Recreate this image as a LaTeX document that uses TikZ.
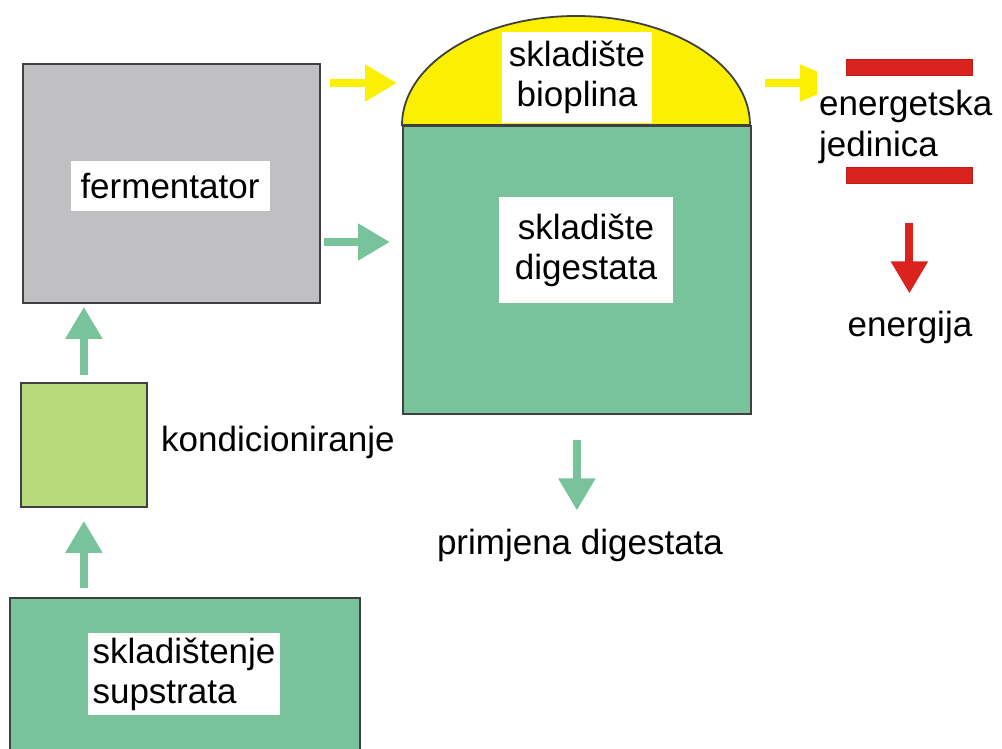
\documentclass[tikz,border=0pt]{standalone}
\usepackage{fontspec}
\setmainfont{Liberation Sans}
\usetikzlibrary{arrows.meta}
\definecolor{gbox}{RGB}{120,195,155}
\definecolor{lgbox}{RGB}{184,218,122}
\definecolor{graybox}{RGB}{192,191,193}
\definecolor{yel}{RGB}{250,240,0}
\definecolor{redc}{RGB}{218,35,30}
\definecolor{edge}{RGB}{64,64,64}
\begin{document}
\begin{tikzpicture}[x=1pt,y=-1pt,
  box/.style={draw=edge, line width=1.8pt, inner sep=0pt, anchor=north west},
  lab/.style={fill=white, inner sep=0pt, font=\fontsize{35}{40}\selectfont, align=center},
  txt/.style={inner sep=0pt, font=\fontsize{35}{41}\selectfont},
  bar/.style={fill=redc, draw=redc!85!black, line width=0.8pt, inner sep=0pt, anchor=north west, minimum width=126pt, minimum height=16pt},
  flow/.style={line width=8pt, -{Triangle[width=35pt,length=32pt]}},
]
\useasboundingbox (0,0) rectangle (1002,749);
\clip (0,0) rectangle (1002,749);

% boxes
\node[box, fill=graybox, minimum width=297pt, minimum height=239pt] (ferm) at (22,63) {};
\node[box, fill=lgbox, minimum width=126pt, minimum height=124pt] (kond) at (20,382) {};
\node[box, fill=gbox, minimum width=350pt, minimum height=180pt] (sub) at (9,597) {};
\node[box, fill=gbox, minimum width=348pt, minimum height=288pt] (dig) at (402,125) {};
\draw[fill=yel, draw=edge, line width=1.8pt] (dig.north west) arc[start angle=180, end angle=360, x radius=174, y radius=109] -- cycle;

% labels
\node[lab, minimum width=199pt, minimum height=50pt] (fermL) at (170,186) {fermentator};
\node[lab, minimum width=150pt, minimum height=91pt] (bioL) at (577,77.5) {skladište\\bioplina};
\node[lab, minimum width=174pt, minimum height=105pt] (digL) at (586,250) {skladište\\digestata};
\node[lab, minimum width=192pt, minimum height=82pt, align=left] (subL) at (184,674) {skladištenje\\supstrata};
\node[txt, anchor=west] (kondL) at (161,442) {kondicioniranje};
\node[txt] (primL) at (580,545) {primjena digestata};
\node[txt] (enrg) at (910,327) {energija};

% energy unit: arrow tip hidden behind the label's white ground
\draw[line width=8pt, yel, -{Triangle[width=35pt,length=45pt]}, shorten <=13pt, shorten >=-28pt] (dig.east |- 0,83) -- (817,83) coordinate (enIn);
\node[txt, fill=white, inner xsep=2pt, minimum height=120pt, align=left, anchor=west] (enL) at (enIn |- 0,127) {energetska\\jedinica};
\node[bar] (barT) at (846,59) {};
\node[bar] (barB) at (846,167) {};

% connectors
\draw[flow, yel, shorten <=9pt, shorten >=5pt] (ferm.east |- 0,83) -- (dig.west |- 0,83);
\draw[flow, gbox, shorten <=3pt, shorten >=12pt] (ferm.east |- 0,242) -- (dig.west |- 0,242);
\draw[flow, gbox, shorten <=7pt, shorten >=3pt] (kond.north) -- (kond.north |- ferm.south);
\draw[flow, gbox, shorten <=9pt, shorten >=13pt] (kond.south |- sub.north) -- (kond.south);
\draw[flow, gbox, shorten <=25pt, shorten >=18pt] (dig.south) -- (dig.south |- primL.north);
\draw[flow, redc, shorten <=39pt, shorten >=17pt] (barB.south) -- (barB.south |- enrg.north);
\end{tikzpicture}
\end{document}
